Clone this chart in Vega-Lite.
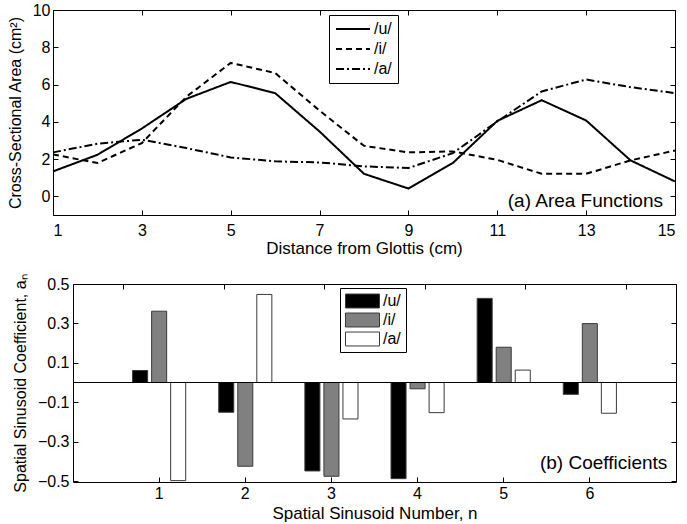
{
  "$schema": "https://vega.github.io/schema/vega-lite/v6.json",
  "padding": {"left": 6, "top": 1, "right": 0, "bottom": 2},
  "config": {
    "font": "Liberation Sans",
    "view": {"stroke": "black", "strokeWidth": 1},
    "axis": {
      "grid": false,
      "domain": false,
      "tickColor": "black",
      "tickSize": -5,
      "labelColor": "black",
      "labelFontSize": 16,
      "titleFontSize": 17,
      "titleFontWeight": "normal",
      "titleColor": "black"
    },
    "axisY": {"titleFontSize": 16}
  },
  "datasets": {
    "area": [
      {"pos": 1, "vowel": "/u/", "area": 1.34},
      {"pos": 2, "vowel": "/u/", "area": 2.23},
      {"pos": 3, "vowel": "/u/", "area": 3.64},
      {"pos": 4, "vowel": "/u/", "area": 5.23},
      {"pos": 5, "vowel": "/u/", "area": 6.14},
      {"pos": 6, "vowel": "/u/", "area": 5.54},
      {"pos": 7, "vowel": "/u/", "area": 3.48},
      {"pos": 8, "vowel": "/u/", "area": 1.21},
      {"pos": 9, "vowel": "/u/", "area": 0.42},
      {"pos": 10, "vowel": "/u/", "area": 1.79},
      {"pos": 11, "vowel": "/u/", "area": 4.05},
      {"pos": 12, "vowel": "/u/", "area": 5.16},
      {"pos": 13, "vowel": "/u/", "area": 4.07},
      {"pos": 14, "vowel": "/u/", "area": 1.93},
      {"pos": 15, "vowel": "/u/", "area": 0.8},
      {"pos": 1, "vowel": "/i/", "area": 2.25},
      {"pos": 2, "vowel": "/i/", "area": 1.79},
      {"pos": 3, "vowel": "/i/", "area": 2.86},
      {"pos": 4, "vowel": "/i/", "area": 5.34},
      {"pos": 5, "vowel": "/i/", "area": 7.16},
      {"pos": 6, "vowel": "/i/", "area": 6.62},
      {"pos": 7, "vowel": "/i/", "area": 4.6},
      {"pos": 8, "vowel": "/i/", "area": 2.71},
      {"pos": 9, "vowel": "/i/", "area": 2.36},
      {"pos": 10, "vowel": "/i/", "area": 2.41},
      {"pos": 11, "vowel": "/i/", "area": 1.96},
      {"pos": 12, "vowel": "/i/", "area": 1.21},
      {"pos": 13, "vowel": "/i/", "area": 1.21},
      {"pos": 14, "vowel": "/i/", "area": 1.93},
      {"pos": 15, "vowel": "/i/", "area": 2.46},
      {"pos": 1, "vowel": "/a/", "area": 2.36},
      {"pos": 2, "vowel": "/a/", "area": 2.82},
      {"pos": 3, "vowel": "/a/", "area": 3.04},
      {"pos": 4, "vowel": "/a/", "area": 2.59},
      {"pos": 5, "vowel": "/a/", "area": 2.09},
      {"pos": 6, "vowel": "/a/", "area": 1.88},
      {"pos": 7, "vowel": "/a/", "area": 1.82},
      {"pos": 8, "vowel": "/a/", "area": 1.61},
      {"pos": 9, "vowel": "/a/", "area": 1.52},
      {"pos": 10, "vowel": "/a/", "area": 2.32},
      {"pos": 11, "vowel": "/a/", "area": 4.02},
      {"pos": 12, "vowel": "/a/", "area": 5.63},
      {"pos": 13, "vowel": "/a/", "area": 6.27},
      {"pos": 14, "vowel": "/a/", "area": 5.86},
      {"pos": 15, "vowel": "/a/", "area": 5.54}
    ],
    "coef": [
      {"n": 1, "vowel": "/u/", "coef": 0.061},
      {"n": 1, "vowel": "/i/", "coef": 0.362},
      {"n": 1, "vowel": "/a/", "coef": -0.498},
      {"n": 2, "vowel": "/u/", "coef": -0.151},
      {"n": 2, "vowel": "/i/", "coef": -0.425},
      {"n": 2, "vowel": "/a/", "coef": 0.447},
      {"n": 3, "vowel": "/u/", "coef": -0.449},
      {"n": 3, "vowel": "/i/", "coef": -0.476},
      {"n": 3, "vowel": "/a/", "coef": -0.185},
      {"n": 4, "vowel": "/u/", "coef": -0.488},
      {"n": 4, "vowel": "/i/", "coef": -0.032},
      {"n": 4, "vowel": "/a/", "coef": -0.153},
      {"n": 5, "vowel": "/u/", "coef": 0.427},
      {"n": 5, "vowel": "/i/", "coef": 0.179},
      {"n": 5, "vowel": "/a/", "coef": 0.063},
      {"n": 6, "vowel": "/u/", "coef": -0.06},
      {"n": 6, "vowel": "/i/", "coef": 0.299},
      {"n": 6, "vowel": "/a/", "coef": -0.156}
    ]
  },
  "columns": 1,
  "align": "none",
  "spacing": 16,
  "resolve": {
    "scale": {"fill": "independent", "strokeDash": "independent"},
    "legend": {"fill": "independent", "strokeDash": "independent"}
  },
  "concat": [
    {
      "width": 622,
      "height": 205,
      "layer": [
        {
          "data": {"name": "area"},
          "mark": {"type": "line", "color": "black", "strokeWidth": 2},
          "encoding": {
            "x": {
              "field": "pos", "type": "quantitative",
              "scale": {"domain": [1, 15], "nice": false},
              "axis": {"values": [1, 3, 5, 7, 9, 11, 13, 15], "title": "Distance from Glottis (cm)", "labelPadding": 12, "titlePadding": 2}
            },
            "y": {
              "field": "area", "type": "quantitative",
              "scale": {"domain": [-1, 10], "nice": false, "zero": false},
              "axis": {"values": [0, 2, 4, 6, 8, 10], "title": "Cross-Sectional Area (cm²)", "labelPadding": 8, "minExtent": 22, "maxExtent": 22, "titlePadding": 8}
            },
            "strokeDash": {
              "field": "vowel", "type": "nominal",
              "scale": {"domain": ["/u/", "/i/", "/a/"], "range": [[1, 0], [6, 4], [8, 3, 2, 3]]},
              "legend": {
                "orient": "none", "legendX": 276, "legendY": 5, "title": null,
                "strokeColor": "black", "fillColor": "white", "padding": 6,
                "labelFontSize": 16, "labelColor": "black", "labelOffset": 3,
                "symbolType": "stroke", "symbolSize": 1156, "symbolStrokeWidth": 2,
                "symbolStrokeColor": "black", "clipHeight": 16, "rowPadding": 4
              }
            }
          }
        },
        {
          "data": {"name": "area"},
          "mark": {"type": "point", "opacity": 0},
          "encoding": {
            "x": {
              "field": "pos", "type": "quantitative",
              "scale": {"domain": [1, 15], "nice": false},
              "axis": {"orient": "top", "values": [1, 3, 5, 7, 9, 11, 13, 15], "labels": false, "title": null}
            },
            "y": {
              "field": "area", "type": "quantitative",
              "scale": {"domain": [-1, 10], "nice": false, "zero": false},
              "axis": {"orient": "right", "values": [0, 2, 4, 6, 8, 10], "labels": false, "title": null, "minExtent": 0}
            }
          }
        },
        {
          "data": {"values": [{"label": "(a) Area Functions", "pos": 14.73, "area": -0.55}]},
          "mark": {"type": "text", "align": "right", "baseline": "alphabetic", "fontSize": 19, "fill": "black"},
          "encoding": {
            "x": {"field": "pos", "type": "quantitative", "axis": null},
            "y": {"field": "area", "type": "quantitative", "axis": null},
            "text": {"field": "label"}
          }
        }
      ],
      "resolve": {"axis": {"x": "independent", "y": "independent"}}
    },
    {
      "hconcat": [
        {
          "width": 20,
          "height": 198,
          "view": {"stroke": null},
          "data": {"values": [{}]},
          "mark": {"type": "point", "opacity": 0},
          "encoding": {}
        },
        {
          "width": 603,
          "height": 198,
          "layer": [
            {
              "data": {"name": "coef"},
              "mark": {"type": "bar", "stroke": "#3a3a3a", "strokeWidth": 1},
              "encoding": {
                "x": {
                  "field": "n", "type": "ordinal",
                  "scale": {"domain": [1, 2, 3, 4, 5, 6], "paddingInner": 0.337, "paddingOuter": 0.6686},
                  "axis": {"labelAngle": 0, "title": "Spatial Sinusoid Number, n", "labelPadding": 8, "titlePadding": 4.5}
                },
                "xOffset": {
                  "field": "vowel", "type": "nominal",
                  "scale": {"domain": ["/u/", "/i/", "/a/"], "paddingInner": 0.21, "paddingOuter": 0.105}
                },
                "y": {
                  "field": "coef", "type": "quantitative", "stack": null,
                  "scale": {"domain": [-0.505, 0.5], "nice": false, "zero": false},
                  "axis": {"values": [-0.5, -0.3, -0.1, 0.1, 0.3, 0.5], "format": ".1f", "title": "Spatial Sinusoid Coefficient, aₙ", "labelPadding": 9, "minExtent": 37, "maxExtent": 37, "titlePadding": 7.5}
                },
                "fill": {
                  "field": "vowel", "type": "nominal",
                  "scale": {"domain": ["/u/", "/i/", "/a/"], "range": ["black", "#808080", "white"]},
                  "legend": {
                    "orient": "none", "legendX": 267, "legendY": 4, "title": null,
                    "strokeColor": "black", "fillColor": "white", "padding": 5,
                    "labelFontSize": 16, "labelColor": "black", "labelOffset": 3,
                    "symbolType": "M-1,-0.41H1V0.41H-1Z", "symbolSize": 1156,
                    "symbolStrokeColor": "#3a3a3a", "symbolStrokeWidth": 1,
                    "clipHeight": 16, "rowPadding": 3
                  }
                }
              }
            },
            {
              "data": {"values": [{"coef": 0}]},
              "mark": {"type": "rule", "color": "black", "strokeWidth": 1},
              "encoding": {"y": {"field": "coef", "type": "quantitative", "axis": null}}
            },
            {
              "data": {"name": "coef"},
              "mark": {"type": "point", "opacity": 0},
              "encoding": {
                "x": {
                  "field": "n", "type": "ordinal",
                  "scale": {"domain": [1, 2, 3, 4, 5, 6], "paddingInner": 0.337, "paddingOuter": 0.6686},
                  "axis": {"orient": "top", "labels": false, "title": null}
                },
                "y": {
                  "field": "coef", "type": "quantitative",
                  "scale": {"domain": [-0.505, 0.5], "nice": false, "zero": false},
                  "axis": {"orient": "right", "values": [-0.5, -0.3, -0.1, 0.1, 0.3, 0.5], "labels": false, "title": null, "minExtent": 0}
                }
              }
            },
            {
              "data": {"values": [{"label": "(b) Coefficients", "n": 6.9, "coef": -0.44}]},
              "mark": {"type": "text", "align": "right", "baseline": "alphabetic", "fontSize": 19, "fill": "black"},
              "encoding": {
                "x": {"field": "n", "type": "quantitative", "scale": {"domain": [0, 7], "nice": false}, "axis": null},
                "y": {"field": "coef", "type": "quantitative", "axis": null},
                "text": {"field": "label"}
              }
            }
          ],
          "resolve": {"scale": {"x": "independent"}, "axis": {"x": "independent", "y": "independent"}}
        }
      ],
      "spacing": 0,
      "bounds": "flush",
      "resolve": {
        "scale": {"fill": "independent"},
        "legend": {"fill": "independent"}
      }
    }
  ]
}
